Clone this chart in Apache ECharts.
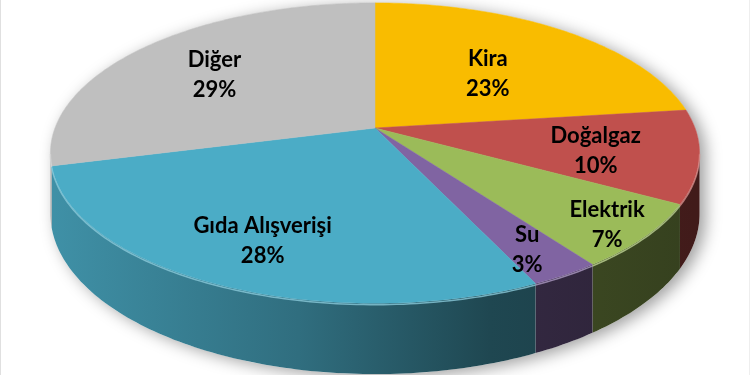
<!DOCTYPE html>
<html>
<head>
<meta charset="utf-8">
<script src="https://cdn.jsdelivr.net/npm/echarts@6/dist/echarts.min.js"></script>
<style>
html,body{margin:0;padding:0;background:#fff;}
#chart{width:750px;height:375px;}
</style>
</head>
<body>
<div id="chart"></div>
<script>
// ---- data ----
const categories = ['Kira', 'Doğalgaz', 'Elektrik', 'Su', 'Gıda Alışverişi', 'Diğer'];
const values = [23, 10, 7, 3, 28, 29];
const colors = ['#F9BC00', '#C0504D', '#9BBB59', '#8064A2', '#4BACC6', '#BFBFBF'];

// ---- 3D pie projection (layout) ----
const CX = 375, CY = 128, RX = 320, RY = 146, K = 0.167, H = 59;
const total = values.reduce((a, b) => a + b, 0);
const starts = [];
{ let c = 0; values.forEach(v => { starts.push(c / total * 360); c += v; }); }
const SIL = Math.acos(-K) * 180 / Math.PI; // silhouette angle

function proj(phi, r, h) {
  const a = phi * Math.PI / 180;
  const u = r * Math.sin(a), v = -r * Math.cos(a);
  const d = 1 - K * v;
  return [CX + RX * u / d, CY + (RY * v + (h || 0)) / d];
}
function arc(a0, a1, r, h) {
  const pts = [];
  const n = Math.max(2, Math.ceil(Math.abs(a1 - a0) / 1));
  for (let i = 0; i <= n; i++) pts.push(proj(a0 + (a1 - a0) * i / n, r, h));
  return pts;
}
function shade(hex, f) {
  const n = parseInt(hex.slice(1), 16);
  const r = Math.round(((n >> 16) & 255) * f), g = Math.round(((n >> 8) & 255) * f), b = Math.round((n & 255) * f);
  return 'rgb(' + r + ',' + g + ',' + b + ')';
}
function lighten(hex, t) {
  const n = parseInt(hex.slice(1), 16);
  const c = [(n >> 16) & 255, (n >> 8) & 255, n & 255].map(x => Math.round(x + (255 - x) * t));
  return 'rgb(' + c.join(',') + ')';
}
// label distance (fraction of the slice's outer edge), smaller slices pushed outward
function labelFrac(v) {
  if (v < 5) return 0.8;
  if (v < 8) return 0.86;
  if (v < 15) return 0.68;
  if (v < 25) return 0.6;
  return 0.7;
}

const chart = echarts.init(document.getElementById('chart'), null, { renderer: 'canvas' });

function renderItem(params, api) {
  const i = params.dataIndex;
  const toPx = p => api.coord(p);
  const s = starts[i], e = s + values[i] / total * 360;
  const children = [];

  if (i === 0) {
    const back = arc(SIL - 360 + (360 - 2 * SIL) + 0, 360 + SIL - (360 - 0), 1, 0);
    const backArc = arc(360 - SIL - 360, SIL, 1, 0);
    const front = arc(SIL, 360 - SIL, 1, H);
    children.push({
      type: 'polygon', z2: -10,
      shape: { points: backArc.concat(front).map(toPx) },
      style: { fill: '#ffffff', shadowColor: 'rgba(0,0,0,0.38)', shadowBlur: 16, shadowOffsetX: 6, shadowOffsetY: 3 }
    });
  }

  // side wall (visible front part only)
  const w0 = Math.max(s, SIL), w1 = Math.min(e, 360 - SIL);
  if (w1 > w0) {
    const top = arc(w0, w1, 1, 0), bot = arc(w1, w0, 1, H);
    const p0 = toPx([CX - RX, 0]), p1 = toPx([CX + RX, 0]);
    children.push({
      type: 'polygon', z2: 1,
      shape: { points: top.concat(bot).map(toPx) },
      style: {
        fill: new echarts.graphic.LinearGradient(p0[0], 0, p1[0], 0, [
          { offset: 0, color: shade(colors[i], 0.84) },
          { offset: 0.38, color: shade(colors[i], 0.64) },
          { offset: 0.68, color: shade(colors[i], 0.41) },
          { offset: 1, color: shade(colors[i], 0.34) }
        ], true)
      }
    });
    children.push({
      type: 'polyline', z2: 3,
      shape: { points: arc(w0, w1, 1, 1.2).map(toPx) },
      style: { stroke: lighten(colors[i], 0.35), lineWidth: 1.5, fill: null, opacity: 0.8 }
    });
  }

  // top face
  const face = [proj(0, 0, 0)].concat(arc(s, e, 1, 0)).map(toPx);
  children.push({
    type: 'polygon', z2: 2,
    shape: { points: face },
    style: { fill: colors[i], stroke: colors[i], lineWidth: 0.5 }
  });

  // label
  const v = values[i];
  const f = labelFrac(v);
  const mid = (s + e) / 2;
  const edge = proj(mid, 1, 0);
  const lp = toPx([CX + (edge[0] - CX) * f, CY + (edge[1] - CY) * f + 4]);
  children.push({
    type: 'text', z2: 100,
    style: {
      text: categories[i] + '\n' + Math.round(v / total * 100) + '%',
      x: lp[0], y: lp[1],
      align: 'center', verticalAlign: 'middle',
      font: 'bold 22px Lato, "Open Sans", sans-serif',
      lineHeight: 30,
      fill: '#000'
    }
  });

  return { type: 'group', children };
}

chart.setOption({
  animation: false,
  backgroundColor: '#ffffff',
  grid: { left: 0, right: 0, top: 0, bottom: 0 },
  xAxis: { type: 'value', min: 0, max: 750, show: false },
  yAxis: { type: 'value', min: 0, max: 375, inverse: true, show: false },
  graphic: [
    { type: 'line', shape: { x1: 0.5, y1: 0, x2: 0.5, y2: 375 }, style: { stroke: '#e0e0e0', lineWidth: 1 } },
    { type: 'line', shape: { x1: 749.5, y1: 0, x2: 749.5, y2: 375 }, style: { stroke: '#eeeeee', lineWidth: 1 } }
  ],
  series: [{
    type: 'custom',
    coordinateSystem: 'cartesian2d',
    renderItem: renderItem,
    data: categories.map((c, i) => [i, values[i]]),
    encode: { x: -1, y: -1 },
    silent: true
  }]
});
</script>
</body>
</html>
